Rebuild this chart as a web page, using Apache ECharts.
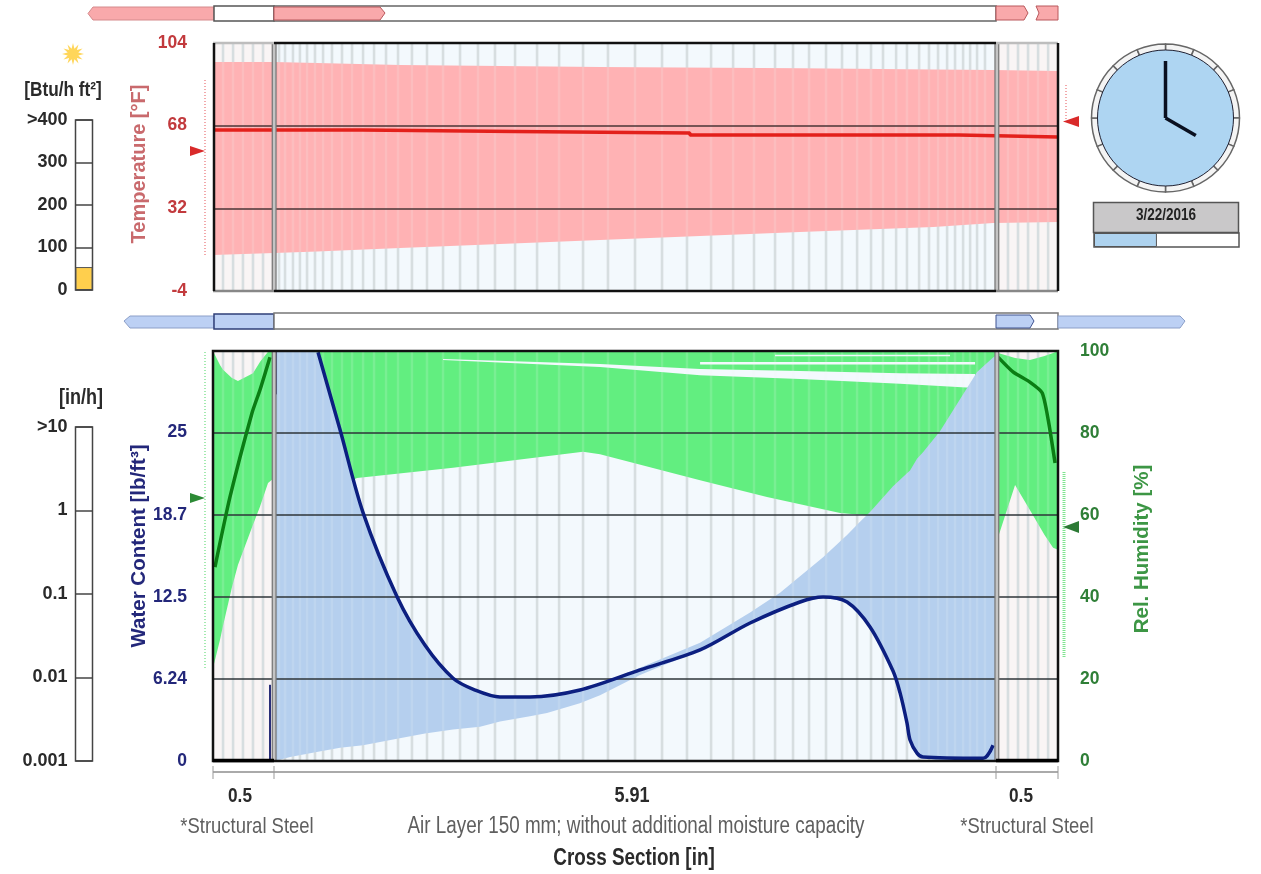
<!DOCTYPE html>
<html>
<head>
<meta charset="utf-8">
<style>html,body{margin:0;padding:0;background:#fff}#main{width:1261px;height:874px;filter:blur(0.5px)}</style>
<script src="https://cdn.jsdelivr.net/npm/echarts@6/dist/echarts.min.js"></script>
</head>
<body>
<div id="main"></div>
<script>
// ---------- data (inches across the wall) ----------
const layerEdges = [0, 0.5, 6.41, 6.91];
const layerWidths = ['0.5', '5.91', '0.5'];
const layerNames = ['*Structural Steel', 'Air Layer 150 mm; without additional moisture capacity', '*Structural Steel'];
const meshX = [0.082,0.164,0.245,0.327,0.409,0.540,0.589,0.654,0.711,0.769,0.834,0.900,0.973,1.055,1.137,1.227,1.317,1.415,1.513,1.627,1.750,1.881,2.020,2.167,2.306,2.470,2.650,2.830,3.026,3.230,3.451,3.672,3.876,4.073,4.253,4.424,4.596,4.743,4.874,5.013,5.144,5.267,5.381,5.479,5.586,5.675,5.774,5.855,5.929,6.003,6.068,6.134,6.191,6.248,6.313,6.501,6.583,6.665,6.747,6.829];

const tempTicks = [-4, 32, 68, 104];
const wcTicks = [0, 6.24, 12.5, 18.7, 25];
const tempBandX = [0, 0.5, 0.85, 1.53, 3.165, 4.80, 5.89, 6.38, 6.91];
const tempMin = [11.7, 12.5, 13.2, 14.7, 18.2, 21.7, 23.9, 25.6, 26];
const tempMax = [95.7, 95.7, 95.3, 94.4, 93.6, 93.0, 92.5, 92.2, 91.8];
const tempNow = [[0,66.1],[1.22,65.5],[2.47,64.8],[3.90,63.9],[6.10,63.1],[6.91,63.1]];

const rhLeftX = [0, 0.057, 0.082, 0.155, 0.204, 0.327, 0.384, 0.45, 0.5];
const rhLeftMin = [22.7, 29.5, 33, 42.4, 47.8, 57.6, 62, 67.8, 69];
const rhLeftMax = [100, 96.6, 95.4, 93.4, 92.7, 94.6, 97.3, 99.8, 100];
const rhMidX = [0.5, 1.178, 1.963, 3.026, 3.165, 3.983, 4.53, 5.128, 5.316, 6.41];
const rhMidMin = [60, 69, 71.5, 75.4, 74.8, 68.5, 64.4, 60.5, 60, 56];
const rhMidMax = [100, 100, 100, 100, 100, 100, 100, 100, 100, 100];
const rhRightX = [6.41, 6.42, 6.559, 6.68, 6.80, 6.87, 6.91];
const rhRightMin = [54.6, 54.6, 67.3, 61.2, 55.1, 52, 51.5];
const rhRightMax = [100, 99.5, 98.3, 97.8, 98.8, 99.5, 100];
const rhGapX = [1.881, 3.165, 3.983, 4.80, 5.618, 6.232];
const rhGapLow = [97.8, 96.1, 94.1, 93.2, 92, 91];
const rhGapHigh = [98.05, 96.8, 95.6, 95.1, 94.6, 94.4];
const rhGap2X = [4.596, 6.027];
const rhGap2Low = [98.7, 98.7];
const rhGap2High = [99.1, 99.1];
const rhGap3X = [3.983, 6.232];
const rhGap3Low = [96.7, 96.7];
const rhGap3High = [97.3, 97.3];
const rhNowLeft = [[0.016,47.3],[0.139,64.4],[0.319,84.9],[0.384,90.5],[0.466,98.5]];
const rhNowRight = [[6.42,98.5],[6.542,94.9],[6.68,92.4],[6.78,89.8],[6.83,83.2],[6.886,72.7]];

const wcBandX = [0.507,0.63,0.859,1.039,1.227,1.505,1.734,1.963,2.184,2.347,2.592,2.731,3.0,3.165,3.492,3.983,4.392,4.637,4.989,5.185,5.291,5.373,5.561,5.618,5.675,5.70,5.757,5.806,5.945,6.248,6.379,6.41];
const wcBandMin = [0,0.3,0.7,1.0,1.2,1.7,2.1,2.4,2.6,3.0,3.4,3.65,4.4,5.0,6.55,8.45,10.5,11.6,12.48,12.1,11.0,10.2,6.85,5.2,2.9,1.6,0.6,0.3,0,0,0,0];
const wcBandMax = [31.2,31.2,31.1,25.2,18.9,12.5,8.8,6.3,5.2,4.87,4.87,4.95,5.4,5.9,7.1,9.0,11.3,12.8,15.5,17.2,18.2,18.95,20.9,21.4,21.9,22.1,23.0,23.5,25.1,29.6,30.7,30.9];
const wcNow = [[0.859,31.1],[1.039,25.2],[1.227,18.9],[1.505,12.5],[1.734,8.8],[1.963,6.3],[2.143,5.4],[2.347,4.87],[2.592,4.87],[3.001,5.4],[3.492,6.93],[3.983,8.45],[4.392,10.5],[4.80,12.1],[4.989,12.48],[5.185,12.1],[5.373,10.2],[5.561,6.85],[5.618,5.2],[5.675,2.9],[5.70,1.6],[5.757,0.6],[5.806,0.3],[6.297,0.2],[6.379,1.2]];
const wcEdgeLeft = [[0.466,0],[0.466,5.8]];
const wcEdgeMid = [[0.515,31.2],[0.515,27.9]];

const radiationTicks = [0, 100, 200, 300, 400];
const radiationNow = [54];
const rainTicks = [0.001, 0.01, 0.1, 1, 10];
const rainNow = [0.001];
const clockHour = 4, clockMinute = 0;
const clockRing = [1,1,1,1,1,1,1,1,1,1,1,1,1,1,1,1];
const dateLabel = '3/22/2016';
const dateProgress = [0.434];

// ---------- styles ----------
const FONT = '"Liberation Sans", Arial, sans-serif';
const RED = '#c23a3d', NAVY = '#23277a', GREEN = '#2f7f37', INK = '#2a2a2a';

const bandSeries = (name, g, y, xs, lo, hi, color, z) => ({
  type: 'custom', name, xAxisIndex: g, yAxisIndex: y, z, silent: true, clip: true,
  data: xs.map((x, i) => [x, lo[i], hi[i]]), encode: { x: 0, y: [1, 2] },
  renderItem: (p, api) => {
    if (p.dataIndex !== 0) return;
    const up = xs.map((x, i) => api.coord([x, hi[i]]));
    const dn = xs.map((x, i) => api.coord([x, lo[i]])).reverse();
    return { type: 'polygon', shape: { points: up.concat(dn) }, style: { fill: color } };
  }
});
const vLines = (name, g, y, xs, lo, hi, color, width, z) => ({
  type: 'custom', name, xAxisIndex: g, yAxisIndex: y, z, silent: true,
  data: xs.map(x => [x, lo, hi]), encode: { x: 0, y: [1, 2] },
  renderItem: (p, api) => {
    const a = api.coord([api.value(0), lo]), b = api.coord([api.value(0), hi]);
    return { type: 'line', shape: { x1: a[0], y1: a[1], x2: b[0], y2: b[1] }, style: { stroke: color, lineWidth: width } };
  }
});
const curve = (name, g, y, data, color, width, smooth, step) => ({
  type: 'line', name, xAxisIndex: g, yAxisIndex: y, data, z: 7, silent: true,
  symbol: 'none', smooth: smooth || false, step: step || false, lineStyle: { color, width }
});

const panelBg = (g, y, lo, hi) => [
  bandSeries('steel-l', g, y, [layerEdges[0], layerEdges[1]], [lo, lo], [hi, hi], '#f9f5f5', 1),
  bandSeries('air', g, y, [layerEdges[1], layerEdges[2]], [lo, lo], [hi, hi], '#f3f9fd', 1),
  bandSeries('steel-r', g, y, [layerEdges[2], layerEdges[3]], [lo, lo], [hi, hi], '#f9f5f5', 1),
  vLines('mesh', g, y, meshX, lo, hi, '#d3dadd', 2.5, 2)
];
const overlay = (g, y, lo, hi) => [
  vLines('mesh-over', g, y, meshX, lo, hi, 'rgba(235,245,245,0.17)', 2.5, 4),
  vLines('sep-a', g, y, [layerEdges[1], layerEdges[2]], lo, hi, '#777', 5, 8),
  vLines('sep-b', g, y, [layerEdges[1], layerEdges[2]], lo, hi, '#c4c4c4', 2.5, 9)
];

// ---------- decoration helpers ----------
const poly = (pts, fill, stroke, lw) => ({ type: 'polygon', z: 30, silent: true, shape: { points: pts }, style: { fill, stroke: stroke || null, lineWidth: lw || 1 } });
const rect = (x, y, w, h, fill, stroke, lw) => ({ type: 'rect', z: 30, silent: true, shape: { x, y, width: w, height: h }, style: { fill: fill || 'none', stroke: stroke || null, lineWidth: lw || 1 } });
const line = (x1, y1, x2, y2, stroke, lw, dash) => ({ type: 'line', z: 30, silent: true, shape: { x1, y1, x2, y2 }, style: { stroke, lineWidth: lw || 1, lineDash: dash || null } });
// narrow: the reference's captions are horizontally condensed, so they are squeezed along x
const text = (t, x, y, size, color, bold, rot, squeeze) => ({
  type: 'text', z: 31, silent: true, x, y, rotation: rot || 0, scaleX: squeeze || 1,
  style: { text: t, font: (bold ? 'bold ' : '') + size + 'px ' + FONT, fill: color, align: 'center', verticalAlign: 'middle' }
});
const sun = (cx, cy) => {
  const pts = [];
  for (let i = 0; i < 24; i++) {
    const r = i % 2 ? 5.5 : 11, a = i * Math.PI / 12;
    pts.push([cx + r * Math.cos(a), cy + r * Math.sin(a)]);
  }
  return poly(pts, '#ffd65a');
};

const PINK = '#f9a9ab', PINKE = '#b9585c', BLUE = '#bcd0f4';
const SQ = 0.82;
const graphics = [
  // upper (heat) strip
  poly([[88,13.5],[93,7],[214,7],[214,20],[93,20]], PINK, '#d58a8c'),
  rect(214,6,60,15,'#fff','#555',1.5),
  rect(274,6,722,15,'#fff','#666',1.5),
  poly([[274,7],[380,7],[385,13],[380,20],[274,20]], PINK, PINKE),
  poly([[996,6],[1024,6],[1028,13],[1024,20],[996,20]], PINK, PINKE),
  poly([[1036,6],[1058,6],[1058,20],[1036,20],[1039,13]], PINK, PINKE),
  // lower (moisture) strip
  poly([[124,321],[130,316],[214,316],[214,328],[130,328]], BLUE, '#8c9fc8'),
  rect(214,314,60,15,BLUE,'#2f3f78',1.5),
  rect(274,313,784,16,'#fff','#777',1.5),
  poly([[996,315],[1030,315],[1034,321],[1030,328],[996,328]], BLUE, '#3f5290'),
  poly([[1058,316],[1180,316],[1185,321],[1180,328],[1058,328]], BLUE, '#8c9fc8'),
  // plot frames
  line(274,43,996,43,'#111',2.5), line(274,291,996,291,'#111',2.5),
  line(213,43,274,43,'#bdbdbd',2.5), line(996,43,1058,43,'#bdbdbd',2.5),
  line(213,291,274,291,'#888',2.5), line(996,291,1058,291,'#888',2.5),
  line(214,43,214,291,'#111',2.5), line(1058,43,1058,291,'#111',2.5),
  rect(213,351,845,410,null,'#111',2.5),
  line(213,760.5,274,760.5,'#000',3.5), line(996,760.5,1058,760.5,'#000',3.5),
  // climate indicators
  line(205,80,205,256,'#f2a9ab',2,[1,2]),
  poly([[190,146],[205,151],[190,156]],'#d92a2a'),
  line(1066,85,1066,120,'#f2a9ab',2,[1,2]),
  poly([[1079,116],[1063,121.5],[1079,127]],'#d92a2a'),
  line(205,352,205,668,'#a4eab0',2,[1,2]),
  poly([[190,493],[205,498],[190,503]],'#2c8a35'),
  line(1064,472,1064,657,'#7fe58f',3,[1,1]),
  poly([[1079,521],[1063,527],[1079,533]],'#2c7a35'),
  // dimension line
  line(213,772,1058,772,'#aaa',2),
  line(213,766,213,779,'#999',1), line(274,766,274,779,'#999',1), line(996,766,996,779,'#999',1), line(1058,766,1058,779,'#999',1),
  // sun, units, titles
  sun(73,54),
  text('[Btu/h ft²]',63,90,21,INK,true,0,SQ),
  text('[in/h]',81,398,22,INK,true,0,SQ),
  text('Temperature [°F]',139,164,20,'#c96a6d',true,Math.PI/2),
  text('Water Content [lb/ft³]',139,546,20.5,NAVY,true,Math.PI/2),
  text('Rel. Humidity [%]',1142,549,20.5,'#3d9645',true,Math.PI/2),
  // layer captions
  text(layerWidths[0],240,796,21,INK,true,0,SQ),
  text(layerWidths[1],632,796,22,INK,true,0,SQ),
  text(layerWidths[2],1021,796,21,INK,true,0,SQ),
  text(layerNames[0],247,827,22.5,'#5f5f5f',false,0,SQ),
  text(layerNames[1],636,827,23,'#5f5f5f',false,0,SQ),
  text(layerNames[2],1027,827,22.5,'#5f5f5f',false,0,SQ),
  text('Cross Section [in]',634,859,23,INK,true,0,SQ),
  // date box
  rect(1093.5,202.5,145,30,'#c9c8c9','#555',1.5),
  text(dateLabel,1166,215,16.5,'#222',true,0,SQ)
];

// ---------- options ----------
const hiddenX = (g, min, max) => ({ gridIndex: g, type: 'value', min, max, show: false });
const tickLabel = (margin, color, size) => ({ margin, color, fontSize: size, fontWeight: 'bold', fontFamily: FONT });
const option = {
  animation: false,
  backgroundColor: '#fff',
  textStyle: { fontFamily: FONT },
  graphic: { elements: graphics },
  grid: [
    { left: 213, top: 43, width: 845, height: 248, show: false },
    { left: 213, top: 351, width: 845, height: 410, show: false },
    { left: 75.5, top: 120, width: 17, height: 170, show: true, backgroundColor: '#fff', borderColor: '#444', borderWidth: 1.5 },
    { left: 75.5, top: 427, width: 17, height: 334, show: true, backgroundColor: '#fff', borderColor: '#444', borderWidth: 1.5 },
    { left: 1094, top: 233, width: 145, height: 14, show: true, backgroundColor: '#fff', borderColor: '#555', borderWidth: 1.5 }
  ],
  xAxis: [
    hiddenX(0, 0, 6.91), hiddenX(1, 0, 6.91),
    { gridIndex: 2, type: 'category', data: ['rad'], show: false },
    { gridIndex: 3, type: 'category', data: ['rain'], show: false },
    hiddenX(4, 0, 1)
  ],
  yAxis: [
    { gridIndex: 0, type: 'value', min: -4, max: 104, z: 5,
      axisLine: { show: false }, axisTick: { show: false, customValues: tempTicks },
      axisLabel: { customValues: tempTicks, ...tickLabel(26, RED, 17.5) },
      splitLine: { show: true, lineStyle: { color: '#4a3436', width: 1.5 } } },
    { gridIndex: 1, type: 'value', min: 0, max: 31.2, z: 5,
      axisLine: { show: false }, axisTick: { show: false, customValues: wcTicks }, splitLine: { show: false },
      axisLabel: { customValues: wcTicks, ...tickLabel(26, NAVY, 17.5) } },
    { gridIndex: 1, type: 'value', position: 'right', min: 0, max: 100, interval: 20, z: 5,
      axisLine: { show: false }, axisTick: { show: false },
      axisLabel: tickLabel(22, GREEN, 17.5),
      splitLine: { show: true, lineStyle: { color: '#2e3538', width: 1.5 } } },
    { gridIndex: 2, type: 'value', min: 0, max: 400, interval: 100, z: 5,
      axisLine: { show: false }, axisTick: { show: false },
      axisLabel: { ...tickLabel(8, INK, 18), formatter: v => v === 400 ? '>400' : String(v) },
      splitLine: { show: true, lineStyle: { color: '#444', width: 1.5 } } },
    { gridIndex: 3, type: 'log', logBase: 10, min: 0.001, max: 10, z: 5,
      axisLine: { show: false }, axisTick: { show: false }, minorTick: { show: false },
      axisLabel: { ...tickLabel(8, INK, 18),
        formatter: v => { const n = rainTicks.reduce((b, t) => Math.abs(Math.log10(t) - Math.log10(v)) < Math.abs(Math.log10(b) - Math.log10(v)) ? t : b); return n === 10 ? '>10' : String(n); } },
      splitLine: { show: true, lineStyle: { color: '#444', width: 1.5 } } },
    { gridIndex: 4, type: 'category', data: ['date'], show: false }
  ],
  series: [
    // temperature panel
    ...panelBg(0, 0, -4, 104),
    bandSeries('Temperature range', 0, 0, tempBandX, tempMin, tempMax, '#ffb2b4', 3),
    ...overlay(0, 0, -4, 104),
    curve('Temperature', 0, 0, tempNow, '#e3201b', 3.5, false, 'end'),
    // moisture panel
    ...panelBg(1, 2, 0, 100),
    bandSeries('RH range steel', 1, 2, rhLeftX, rhLeftMin, rhLeftMax, '#62ee80', 3),
    bandSeries('RH range air', 1, 2, rhMidX, rhMidMin, rhMidMax, '#62ee80', 3),
    bandSeries('RH range steel 2', 1, 2, rhRightX, rhRightMin, rhRightMax, '#62ee80', 3),
    bandSeries('RH gap a', 1, 2, rhGapX, rhGapLow, rhGapHigh, '#f3f9fd', 3),
    bandSeries('RH gap b', 1, 2, rhGap2X, rhGap2Low, rhGap2High, '#f3f9fd', 3),
    bandSeries('RH gap c', 1, 2, rhGap3X, rhGap3Low, rhGap3High, '#f3f9fd', 3),
    bandSeries('Water content range', 1, 1, wcBandX, wcBandMin, wcBandMax, '#b5cfee', 3),
    ...overlay(1, 2, 0, 100),
    curve('Relative humidity steel', 1, 2, rhNowLeft, '#0b7d14', 3.5, 0.2),
    curve('Relative humidity steel 2', 1, 2, rhNowRight, '#0b7d14', 3.5, 0.2),
    curve('Water content', 1, 1, wcNow, '#0c1f80', 3.5, 0.3),
    curve('Water content edge', 1, 1, wcEdgeLeft, '#2a2f78', 2),
    curve('Water content edge 2', 1, 1, wcEdgeMid, '#2a2f78', 2),
    // flux gauges
    { type: 'bar', name: 'Radiation', xAxisIndex: 2, yAxisIndex: 3, data: radiationNow, barWidth: '100%', z: 3, silent: true, itemStyle: { color: '#ffcf4d', borderColor: '#555', borderWidth: 1 } },
    { type: 'bar', name: 'Rain', xAxisIndex: 3, yAxisIndex: 4, data: rainNow, barWidth: '100%', z: 3, silent: true, itemStyle: { color: 'rgba(0,0,0,0)' } },
    // date progress
    { type: 'bar', name: 'Date', xAxisIndex: 4, yAxisIndex: 5, data: dateProgress, barWidth: '100%', z: 3, silent: true, itemStyle: { color: '#aed3ef', borderColor: '#555', borderWidth: 1 } },
    // clock
    { type: 'pie', name: 'ClockRing', center: [1165.5, 118], radius: [67, 74], silent: true, label: { show: false }, labelLine: { show: false }, startAngle: 90, data: clockRing.map(v => ({ value: v })), itemStyle: { color: '#f4f4f4', borderColor: '#666', borderWidth: 1.5 } },
    { type: 'pie', name: 'ClockFace', center: [1165.5, 118], radius: [0, 68], silent: true, label: { show: false }, labelLine: { show: false }, data: [{ value: 1 }], itemStyle: { color: '#aed5f2', borderColor: '#223', borderWidth: 1 } },
    { type: 'gauge', name: 'Hour', center: [1165.5, 118], radius: 35, startAngle: 90, endAngle: -270, min: 0, max: 12, z: 6,
      axisLine: { show: false }, axisTick: { show: false }, splitLine: { show: false }, axisLabel: { show: false }, detail: { show: false }, title: { show: false }, anchor: { show: false },
      pointer: { icon: 'rect', length: '100%', width: 3.5, offsetCenter: [0, 0], itemStyle: { color: '#0a1020' } }, itemStyle: { color: '#0a1020' }, data: [{ value: clockHour + clockMinute / 60 }] },
    { type: 'gauge', name: 'Minute', center: [1165.5, 118], radius: 57, startAngle: 90, endAngle: -270, min: 0, max: 60, z: 6,
      axisLine: { show: false }, axisTick: { show: false }, splitLine: { show: false }, axisLabel: { show: false }, detail: { show: false }, title: { show: false }, anchor: { show: false },
      pointer: { icon: 'rect', length: '100%', width: 3.5, offsetCenter: [0, 0], itemStyle: { color: '#0a1020' } }, itemStyle: { color: '#0a1020' }, data: [{ value: clockMinute }] }
  ]
};
echarts.init(document.getElementById('main')).setOption(option);
</script>
</body>
</html>
